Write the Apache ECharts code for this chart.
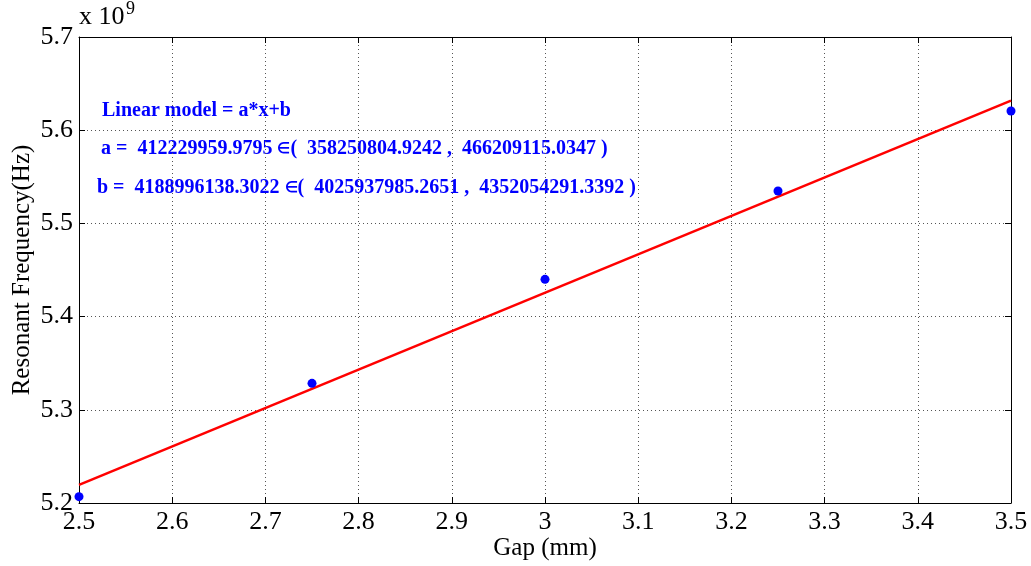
<!DOCTYPE html>
<html>
<head>
<meta charset="utf-8">
<script src="https://cdn.jsdelivr.net/npm/echarts@6/dist/echarts.min.js"></script>
<style>html,body{margin:0;padding:0;background:#fff}#c{width:1031px;height:566px}</style>
</head>
<body>
<div id="c"></div>
<script>
// Data (frequency in units of 1e9 Hz)
var gap = [2.5, 2.75, 3.0, 3.25, 3.5];
var freq = [5.2068, 5.3284, 5.4400, 5.5348, 5.6206];
var fitX = [2.5, 3.5];
var fitY = [5.2195, 5.6317];
var titleText = 'Linear model = a*x+b';
var aParts = ['a =  412229959.9795 ', '\u2208', '(  358250804.9242 ,  466209115.0347 )'];
var bParts = ['b =  4188996138.3022 ', '\u2208', '(  4025937985.2651 ,  4352054291.3392 )'];

var chart = echarts.init(document.getElementById('c'));
var font = "'Liberation Serif', 'Times New Roman', serif";
function fmt(v){ var s = (Math.round(v*10)/10).toFixed(1); return '{v|' + s.replace(/\.0$/,'') + '}'; }
var tickRich = {v:{fontFamily:'Liberation Serif',fontSize:26,color:'#000'}};
var axLine = {show:true,lineStyle:{color:'#000',width:1}};
var axTick = {show:true,inside:true,length:6,lineStyle:{color:'#000'}};
var rich = {
  t:{fontFamily:font,fontSize:20,fontWeight:'bold',fill:'#0000ff',color:'#0000ff'},
  e:{fontFamily:font,fontSize:15,fontWeight:'bold',fill:'#0000ff',color:'#0000ff'}
};
chart.setOption({
  animation:false,
  textStyle:{fontFamily:font},
  grid:{left:79,right:20,top:37,bottom:63,containLabel:false,outerBoundsMode:'none'},
  xAxis:[{
    type:'value',min:2.5,max:3.5,interval:0.1,position:'bottom',
    name:'Gap (mm)',nameLocation:'middle',nameGap:33,nameMoveOverlap:false,
    nameTextStyle:{fontFamily:font,fontSize:25,color:'#000'},
    axisLine:axLine,axisTick:axTick,
    axisLabel:{formatter:fmt,rich:tickRich,fontFamily:'Liberation Serif',fontSize:26,color:'#000',margin:6},
    splitLine:{show:true,lineStyle:{type:[1,3],color:'#555',width:1}}
  },{
    type:'value',min:2.5,max:3.5,interval:0.1,position:'top',
    axisLine:axLine,axisTick:axTick,
    axisLabel:{show:false},splitLine:{show:false}
  }],
  yAxis:[{
    type:'value',min:5.2,max:5.7,interval:0.1,position:'left',
    name:'Resonant Frequency(Hz)',nameLocation:'middle',nameGap:44,nameMoveOverlap:false,
    nameTextStyle:{fontFamily:font,fontSize:25,color:'#000'},
    axisLine:axLine,axisTick:axTick,
    axisLabel:{formatter:fmt,rich:tickRich,fontFamily:'Liberation Serif',fontSize:26,color:'#000',margin:6},
    splitLine:{show:true,lineStyle:{type:[1,3],color:'#555',width:1}}
  },{
    type:'value',min:5.2,max:5.7,interval:0.1,position:'right',
    axisLine:axLine,axisTick:axTick,
    axisLabel:{show:false},splitLine:{show:false}
  }],
  series:[{
    type:'line',data:fitX.map(function(x,i){return [x,fitY[i]];}),
    showSymbol:false,lineStyle:{color:'#ff0000',width:2.5},z:3
  },{
    type:'scatter',data:gap.map(function(x,i){return [x,freq[i]];}),
    symbol:'circle',symbolSize:9,itemStyle:{color:'#0000ff',opacity:1},z:4
  }],
  graphic:[
    {type:'text',left:79,top:4,style:{text:'x 10',font:'26px '+font,fill:'#000'}},
    {type:'text',left:126,top:0,style:{text:'9',font:'18px '+font,fill:'#000'}},
    {type:'text',left:102,top:101,style:{text:'{t|'+titleText+'}',rich:rich,fill:'#0000ff'}},
    {type:'text',left:101,top:139,style:{text:'{t|'+aParts[0]+'}{e|'+aParts[1]+'}{t|'+aParts[2]+'}',rich:rich,fill:'#0000ff'}},
    {type:'text',left:97,top:178,style:{text:'{t|'+bParts[0]+'}{e|'+bParts[1]+'}{t|'+bParts[2]+'}',rich:rich,fill:'#0000ff'}}
  ]
});
</script>
</body>
</html>
